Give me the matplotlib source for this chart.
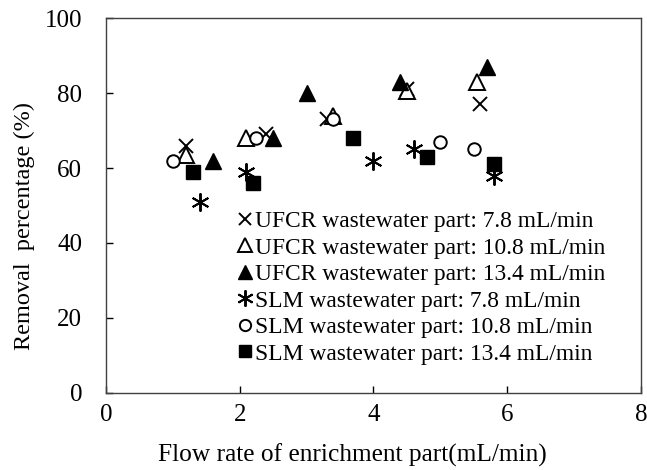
import matplotlib
matplotlib.use("Agg")
import matplotlib.pyplot as plt

# Data
ufcr78_x = [1.2, 2.4, 3.3, 4.5, 5.6]
ufcr78_y = [66, 69, 73, 81, 77]
ufcr108_x = [1.2, 2.1, 3.4, 4.5, 5.55]
ufcr108_y = [63.5, 68, 74, 80.5, 83]
ufcr134_x = [1.6, 2.5, 3.0, 4.4, 5.7]
ufcr134_y = [62, 68, 80, 83, 87]
slm78_x = [1.4, 2.1, 4.0, 4.6, 5.8]
slm78_y = [51, 59, 62, 65, 58]
slm108_x = [1.0, 2.25, 3.4, 5.0, 5.5]
slm108_y = [62, 68, 73, 67, 65]
slm134_x = [1.3, 2.2, 3.7, 4.8, 5.8]
slm134_y = [59, 56, 68, 63, 61]

labels = [
    "UFCR wastewater part: 7.8 mL/min",
    "UFCR wastewater part: 10.8 mL/min",
    "UFCR wastewater part: 13.4 mL/min",
    "SLM wastewater part: 7.8 mL/min",
    "SLM wastewater part: 10.8 mL/min",
    "SLM wastewater part: 13.4 mL/min",
]

plt.rcParams['font.family'] = ['Liberation Serif', 'DejaVu Serif']

fig = plt.figure(figsize=(6.47, 4.70), dpi=100)
ax = fig.add_axes([0.1638, 0.1645, 0.8269, 0.7965])

ms = 10
ax.plot(ufcr78_x, ufcr78_y, ls='none', marker='x', ms=ms, mec='black', mew=1.4, label=labels[0])
ax.plot(ufcr108_x, ufcr108_y, ls='none', marker='^', ms=ms + 1, mec='black', mfc='white', mew=1.4, label=labels[1])
ax.plot(ufcr134_x, ufcr134_y, ls='none', marker='^', ms=ms + 1, mec='black', mfc='black', label=labels[2])
ax.plot(slm78_x, slm78_y, ls='none', marker=(6, 2, 0), ms=ms + 3, mec='black', mew=1.4, label=labels[3])
ax.plot(slm108_x, slm108_y, ls='none', marker='o', ms=ms - 1, mec='black', mfc='white', mew=1.4, label=labels[4])
ax.plot(slm134_x, slm134_y, ls='none', marker='s', ms=ms, mec='black', mfc='black', label=labels[5])

ax.set_xlim(0, 8)
ax.set_ylim(0, 100)
ax.set_xticks([0, 2, 4, 6, 8])
ax.set_yticks([0, 20, 40, 60, 80, 100])
ax.tick_params(direction='in', length=5, width=1, labelsize=18)
ax.tick_params(axis='x', pad=8)
ax.tick_params(axis='y', pad=17)
for s in ax.spines.values():
    s.set_color('#404040')
    s.set_linewidth(1)

ax.set_xlabel("Flow rate of enrichment part(mL/min)", fontsize=18.3, labelpad=13)
ax.set_ylabel("Removal  percentage (%)", fontsize=17.5, labelpad=7)
ax.xaxis.label.set_x(0.46)
ax.yaxis.label.set_y(0.445)

leg = ax.legend(loc='upper left', bbox_to_anchor=(0.246, 0.486), frameon=False,
                fontsize=16.9, handlelength=0.6, handletextpad=0.15, labelspacing=0.215,
                borderaxespad=0, borderpad=0, markerscale=0.9)

fig.savefig("out.png", dpi=100)
